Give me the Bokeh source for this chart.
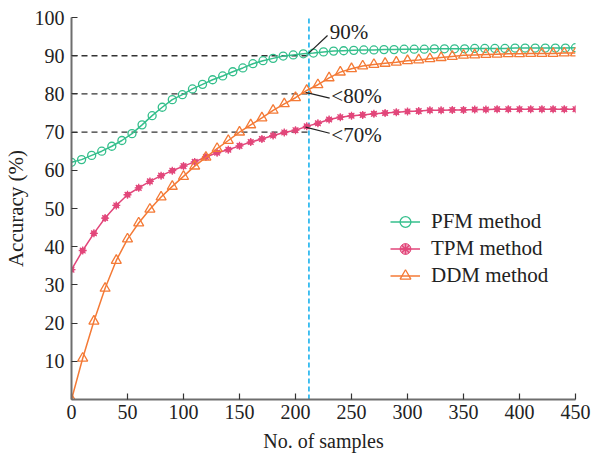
from bokeh.plotting import figure
from bokeh.models import Range1d, FixedTicker, Legend, LegendItem, ColumnDataSource
from bokeh.core.properties import value
from bokeh.embed import file_html
from bokeh.resources import INLINE

# ---------------- data ----------------
pfm_x = [0, 9, 18, 27, 36, 45, 54, 63, 72, 81, 90, 99, 108, 117, 126, 135, 144, 153, 162, 171,
         180, 189, 198, 207, 216, 225, 234, 243, 252, 261, 270, 279, 288, 297, 306, 315, 324, 333,
         342, 351, 360, 369, 378, 387, 396, 405, 414, 423, 432, 441, 450]
pfm_y = [62.1, 62.8, 63.9, 65.0, 66.3, 67.8, 69.6, 71.9, 74.3, 76.5, 78.5, 79.8, 81.3, 82.5, 83.7,
         84.7, 85.8, 86.8, 87.9, 88.7, 89.3, 89.9, 90.2, 90.5, 90.7,
         91.0, 91.2, 91.3, 91.4, 91.5, 91.5, 91.6, 91.6, 91.7, 91.7, 91.7, 91.8, 91.8, 91.8, 91.8,
         91.9, 91.9, 91.9, 91.9, 92.0, 92.0, 92.0, 92.0, 92.0, 92.0, 92.1]

tpm_x = [0, 10, 20, 30, 40, 50, 60, 70, 80, 90, 100, 110, 120, 130, 140, 150, 160, 170, 180, 190,
         200, 210, 220, 230, 240, 250, 260, 270, 280, 290, 300, 310, 320, 330, 340, 350, 360, 370,
         380, 390, 400, 410, 420, 430, 440, 450]
tpm_y = [34.0, 39.0, 43.5, 47.5, 50.8, 53.6, 55.4, 57.1, 58.6, 59.9, 61.1, 62.2, 63.5, 64.6, 65.4,
         66.4, 67.4, 68.2, 69.1, 69.9, 70.5, 71.5, 72.3, 73.3, 73.9, 74.3, 74.5, 74.8, 75.0, 75.2,
         75.4, 75.5, 75.7, 75.7, 75.8, 75.8, 75.9, 75.9, 76.0, 76.0, 76.0, 76.0, 76.0, 76.0, 76.0, 76.0]

ddm_x = tpm_x
ddm_y = [0.0, 10.8, 20.5, 29.1, 36.4, 42.0, 46.2, 49.8, 53.0, 55.8, 58.4, 61.1, 63.4, 65.7, 67.8,
         70.0, 71.9, 73.7, 75.7, 77.4, 79.0, 80.9, 82.4, 84.2, 85.7, 86.6, 87.3, 87.7, 88.0, 88.3,
         88.7, 88.9, 89.2, 89.5, 89.8, 90.1, 90.2, 90.3, 90.4, 90.5, 90.5, 90.6, 90.6, 90.6, 90.7, 90.7]

series_names = ["PFM method", "TPM method", "DDM method"]
x_ticks = [0, 50, 100, 150, 200, 250, 300, 350, 400, 450]
y_ticks = [10, 20, 30, 40, 50, 60, 70, 80, 90, 100]

mark_x = 212
ref_levels = [90, 80, 70]
ref_labels = ["90%", "<80%", "<70%"]

# ---------------- style ----------------
FONT = "Liberation Serif"
C_PFM = "#34bf8c"
C_TPM = "#e2467a"
C_DDM = "#f47a36"
C_VLINE = "#1ab2ee"

p = figure(width=591, height=456, frame_width=504, frame_height=382,
           x_range=Range1d(0, 450), y_range=Range1d(0, 100),
           output_backend="svg", toolbar_location=None,
           min_border_left=71, min_border_right=16, min_border_top=17, min_border_bottom=57)
p.outline_line_color = None
p.xgrid.visible = False
p.ygrid.visible = False
p.background_fill_color = "white"

for ax in (p.xaxis[0], p.yaxis[0]):
    ax.axis_line_color = "#6e6e6e"
    ax.axis_line_width = 2
    ax.major_tick_line_color = "#333333"
    ax.major_tick_line_width = 1.2
    ax.major_tick_in = 6
    ax.major_tick_out = 0
    ax.minor_tick_in = 0
    ax.minor_tick_out = 0
    ax.major_label_text_font = FONT
    ax.major_label_text_font_size = "20px"
    ax.major_label_text_color = "#222222"
    ax.axis_label_text_font = FONT
    ax.axis_label_text_font_style = "normal"
    ax.axis_label_text_color = "#222222"

p.xaxis.major_label_standoff = 5
p.xaxis.axis_label_text_font_size = "20px"
p.xaxis.axis_label_standoff = 8
p.yaxis.major_label_standoff = 7
p.yaxis.axis_label_text_font_size = "21px"
p.yaxis.axis_label_standoff = 4

p.xaxis.ticker = FixedTicker(ticks=x_ticks)
p.yaxis.ticker = FixedTicker(ticks=y_ticks)
p.xaxis.axis_label = "No. of samples"
p.yaxis.axis_label = "Accuracy (%)"

# reference dashed lines
for lv in ref_levels:
    p.line([0, mark_x], [lv, lv], line_color="#333333", line_width=1.4, line_dash="6 4")
p.line([mark_x, mark_x], [0, 100], line_color=C_VLINE, line_width=1.6, line_dash="5 3")

# series
l1 = p.line(pfm_x, pfm_y, line_color=C_PFM, line_width=1.5)
s1 = p.scatter(pfm_x, pfm_y, marker="circle", size=8, line_color=C_PFM, line_width=1.3,
               fill_color="white", fill_alpha=0.0)
l2 = p.line(tpm_x, tpm_y, line_color=C_TPM, line_width=1.5)
s2b = p.scatter(tpm_x, tpm_y, marker="circle", size=5, line_color=C_TPM, fill_color=C_TPM, fill_alpha=0.5)
s2 = p.scatter(tpm_x, tpm_y, marker="asterisk", size=8, line_color=C_TPM, line_width=1.3)
l3 = p.line(ddm_x, ddm_y, line_color=C_DDM, line_width=1.5)
s3 = p.scatter(ddm_x, ddm_y, marker="triangle", size=10, line_color=C_DDM, line_width=1.3,
               fill_color="white", fill_alpha=0.0)

# annotations with leader lines
lead_x = [[211.6, 228.6], [209.0, 230.5], [209.0, 230.5]]
lead_y = [[90.6, 95.3], [80.4, 78.9], [71.3, 69.7]]
for lx, ly in zip(lead_x, lead_y):
    p.line(lx, ly, line_color="#222222", line_width=1.2)

txt_src = ColumnDataSource(dict(x=[230.5, 232.0, 232.0], y=[96.2, 79.4, 69.2], t=ref_labels))
p.text(x="x", y="y", text="t", source=txt_src, text_font=value(FONT), text_font_size=value("21px"),
       text_baseline="middle", text_align="left", text_color="#222222")

legend = Legend(items=[
    LegendItem(label=series_names[0], renderers=[l1, s1]),
    LegendItem(label=series_names[1], renderers=[l2, s2b, s2]),
    LegendItem(label=series_names[2], renderers=[l3, s3]),
], location=(319, 110))
legend.label_text_font = FONT
legend.label_text_font_size = "21px"
legend.label_text_color = "#222222"
legend.background_fill_alpha = 0
legend.border_line_alpha = 0
legend.padding = 0
legend.margin = 0
legend.spacing = 0
legend.glyph_width = 30
legend.glyph_height = 27
legend.label_height = 27
legend.label_standoff = 11
p.add_layout(legend, "center")

open("out.html", "w").write(file_html(p, INLINE))
